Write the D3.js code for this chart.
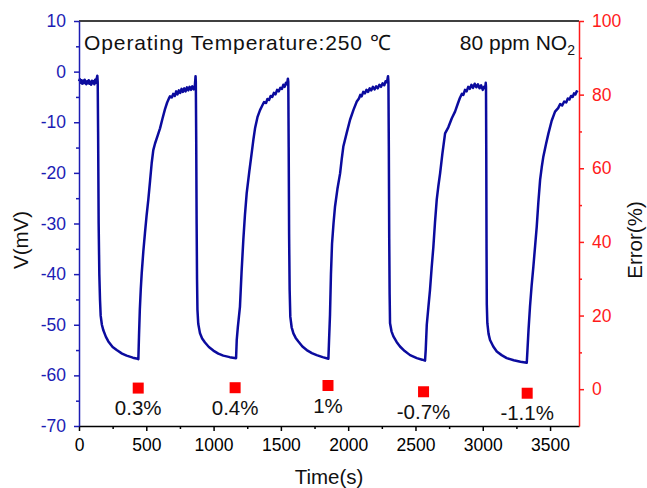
<!DOCTYPE html>
<html>
<head>
<meta charset="utf-8">
<script src="https://cdn.jsdelivr.net/npm/d3@7"></script>
<style>
  body { margin: 0; background: #fff; }
  text { font-family: "Liberation Sans", Arial, sans-serif; }
</style>
</head>
<body>
<div id="chart"></div>
<script>
// Basic dimensions
const width = 647;
const height = 488;
const margin = { left: 79, right: 68, top: 21, bottom: 62 };

// Sensor response (time in s, voltage in mV)
const responseTime = [
  0, 6, 12, 18, 24, 30, 36, 42, 48, 54, 60, 66, 72, 78, 84, 90, 96, 102, 108, 114, 120, 126, 132, 136, 139,
  142, 146, 151, 156, 161, 170, 181, 200, 218, 250, 280, 320, 354, 400, 435, 441,
  446, 452, 459, 466, 478, 490, 502, 515, 528, 540, 552, 565, 585, 602, 620, 639, 655, 668, 676, 690, 700, 712, 722, 732, 742, 752, 762, 772, 782, 792, 802, 812, 822, 832, 842, 852, 860, 866,
  868, 871, 874, 877, 880, 886, 899, 915, 936, 965, 998, 1035, 1072, 1120, 1167,
  1172, 1180, 1196, 1208, 1221, 1233, 1246, 1265, 1283, 1296, 1308, 1326, 1345, 1360, 1375, 1390, 1400, 1412, 1424, 1436, 1448, 1460, 1472, 1484, 1496, 1508, 1518, 1528, 1538, 1546, 1552,
  1555, 1558, 1561, 1565, 1570, 1580, 1593, 1610, 1630, 1660, 1692, 1730, 1766, 1810, 1853,
  1858, 1865, 1872, 1880, 1891, 1902, 1920, 1940, 1952, 1964, 1990, 2014, 2040, 2064, 2080, 2090, 2100, 2112, 2124, 2136, 2148, 2160, 2172, 2184, 2196, 2208, 2220, 2232, 2244, 2256, 2268, 2278, 2288, 2296,
  2299, 2302, 2305, 2308, 2311, 2322, 2336, 2360, 2385, 2420, 2460, 2510, 2550, 2571,
  2576, 2584, 2596, 2608, 2620, 2633, 2645, 2658, 2670, 2683, 2700, 2720, 2744, 2770, 2794, 2815, 2830, 2845, 2856, 2868, 2880, 2892, 2904, 2916, 2928, 2940, 2952, 2964, 2976, 2988, 3000, 3010, 3018, 3022,
  3024, 3026, 3028, 3030, 3034, 3043, 3054, 3078, 3104, 3140, 3178, 3230, 3280, 3327,
  3332, 3340, 3351, 3363, 3376, 3389, 3401, 3413, 3426, 3438, 3450, 3470, 3488, 3512, 3537, 3560, 3575, 3590, 3605, 3620, 3632, 3644, 3656, 3668, 3678, 3688, 3698, 3705
];
const responseV = [
  -1.9, -1.5, -2.2, -1.7, -2.4, -1.8, -2.3, -1.6, -2.1, -2.5, -1.9, -2.3, -1.7, -2.4, -2.0, -2.6, -1.8, -2.3, -1.9, -2.5, -1.6, -2.2, -1.3, -0.8, -2.0,
  -12, -30, -40, -45, -48.2, -50, -51.1, -52.4, -53.3, -54.4, -55.0, -55.7, -56.1, -56.5, -56.7, -56.8,
  -52, -47, -43, -39.8, -35.5, -31.9, -28.5, -25.3, -21.6, -18.1, -15.5, -14.2, -12.6, -11.2, -9.3, -7.4, -6.1, -5.3, -4.9, -5.1, -4.4, -4.8, -3.9, -4.5, -3.7, -4.2, -3.4, -4.0, -3.3, -3.9, -3.1, -3.7, -3.0, -3.6, -2.9, -3.5, -3.1, -0.9,
  -2, -14, -30, -41, -47, -49.8, -51.7, -52.7, -53.5, -54.4, -55.1, -55.7, -56.1, -56.4, -56.6,
  -53, -50.5, -46.4, -39.5, -33.2, -28.3, -24.0, -19.8, -16.1, -13.4, -11.2, -9.0, -7.6, -6.8, -6.0, -6.2, -5.4, -5.6, -4.8, -5.0, -4.2, -4.5, -3.6, -3.9, -3.2, -3.4, -2.6, -3.0, -2.2, -2.5, -1.4,
  -2, -15, -32, -43, -48.4, -50.5, -51.7, -52.6, -53.3, -54.3, -55.0, -55.6, -56.0, -56.4, -56.7,
  -53, -48, -40, -34, -30, -26.7, -23.2, -20.1, -17.3, -14.8, -12.0, -9.5, -7.5, -5.9, -5.3, -4.6, -4.9, -4.0, -4.3, -3.6, -4.0, -3.3, -3.7, -3.0, -3.5, -2.9, -3.3, -2.6, -3.0, -2.3, -2.7, -1.9, -2.1, -0.9,
  -2, -15, -33, -44, -49.7, -51.3, -52.3, -53.4, -54.3, -55.2, -56.0, -56.6, -56.9, -57.1,
  -55, -50, -46.5, -43.1, -38.8, -34.6, -29.8, -25.3, -22.6, -20.1, -16.2, -12.2, -11.0, -9.2, -7.9, -6.3, -5.2, -4.4, -4.6, -3.6, -3.9, -3.0, -3.4, -2.6, -3.2, -2.4, -3.1, -2.5, -3.3, -2.7, -3.6, -3.0, -3.3, -2.2,
  -3, -16, -35, -46, -49.7, -51.8, -53.0, -54.3, -55.3, -56.0, -56.6, -57.0, -57.3, -57.5,
  -55, -51, -46.4, -42.3, -38.5, -34.4, -30.6, -25.8, -21.4, -18.9, -16.8, -14.3, -12.2, -9.7, -7.9, -7.2, -6.4, -6.7, -5.9, -6.1, -5.3, -5.5, -4.8, -5.0, -4.3, -4.5, -3.9, -4.1
];

// Error points (right axis)
const errorTime = [440, 1160, 1850, 2560, 3330];
const errorValue = [0.3, 0.4, 1, -0.7, -1.1];
const errorLabels = ["0.3%", "0.4%", "1%", "-0.7%", "-1.1%"];

// Tick values
const xTicks = [0, 500, 1000, 1500, 2000, 2500, 3000, 3500];
const xMinor = [250, 750, 1250, 1750, 2250, 2750, 3250];
const yTicks = [10, 0, -10, -20, -30, -40, -50, -60, -70];
const yMinor = [5, -5, -15, -25, -35, -45, -55, -65];
const errTicks = [0, 20, 40, 60, 80, 100];
const errMinor = [10, 30, 50, 70, 90];

const lineColor = "#0b0b9e";
const leftColor = "#1c1cb4";
const rightColor = "#ff1a1a";
const plain = d => String(d); // keep hyphen minus like the original

const svg = d3.select("#chart")
  .append("svg")
  .attr("width", width)
  .attr("height", height);

const x = d3.scaleLinear().domain([0, 3715]).range([margin.left, width - margin.right]);
const y = d3.scaleLinear().domain([-70, 10]).range([height - margin.bottom, margin.top]);
const yErr = d3.scaleLinear().domain([-10, 100]).range([height - margin.bottom, margin.top]);

const data = responseTime.map((t, i) => ({ t: t, v: responseV[i] }));

// Response line
const line = d3.line()
  .x(d => x(d.t))
  .y(d => y(d.v));

svg.append("path")
  .datum(data)
  .attr("fill", "none")
  .attr("stroke", lineColor)
  .attr("stroke-width", 2.5)
  .attr("stroke-linejoin", "round")
  .attr("d", line);

// Top frame line
svg.append("line")
  .attr("x1", margin.left).attr("x2", width - margin.right)
  .attr("y1", margin.top).attr("y2", margin.top)
  .attr("stroke", "#000")
  .attr("stroke-width", 1.5);

// Bottom axis
const xAxis = svg.append("g")
  .attr("transform", `translate(0,${height - margin.bottom})`)
  .call(d3.axisBottom(x).tickValues(xTicks).tickFormat(plain).tickSize(5).tickPadding(8).tickSizeOuter(0));
svg.append("g")
  .attr("transform", `translate(0,${height - margin.bottom})`)
  .call(d3.axisBottom(x).tickValues(xMinor).tickSize(3).tickFormat("").tickSizeOuter(0))
  .call(g => g.select(".domain").remove())
  .selectAll("line").attr("stroke-width", 1.5);
xAxis.selectAll("text").attr("fill", "#000").attr("font-size", "17.5px");
xAxis.selectAll("line").attr("stroke-width", 1.5);
xAxis.select(".domain").attr("stroke-width", 1.5);

// Left axis
const yAxis = svg.append("g")
  .attr("transform", `translate(${margin.left},0)`)
  .call(d3.axisLeft(y).tickValues(yTicks).tickFormat(plain).tickSize(5).tickPadding(8).tickSizeOuter(0));
const yMinorG = svg.append("g")
  .attr("transform", `translate(${margin.left},0)`)
  .call(d3.axisLeft(y).tickValues(yMinor).tickSize(3).tickFormat("").tickSizeOuter(0));
yMinorG.select(".domain").remove();
yMinorG.selectAll("line").attr("stroke", leftColor).attr("stroke-width", 1.5);
yAxis.selectAll("line").attr("stroke", leftColor).attr("stroke-width", 1.5);
yAxis.select(".domain").attr("stroke", leftColor).attr("stroke-width", 1.5);
yAxis.selectAll("text").attr("fill", leftColor).attr("font-size", "17.5px");

// Right axis
const rAxis = svg.append("g")
  .attr("transform", `translate(${width - margin.right},0)`)
  .call(d3.axisRight(yErr).tickValues(errTicks).tickFormat(plain).tickSize(5).tickPadding(8).tickSizeOuter(0));
const rMinorG = svg.append("g")
  .attr("transform", `translate(${width - margin.right},0)`)
  .call(d3.axisRight(yErr).tickValues(errMinor).tickSize(3).tickFormat("").tickSizeOuter(0));
rMinorG.select(".domain").remove();
rMinorG.selectAll("line").attr("stroke", rightColor).attr("stroke-width", 1.5);
rAxis.selectAll("line").attr("stroke", rightColor).attr("stroke-width", 1.5);
rAxis.select(".domain").attr("stroke", rightColor).attr("stroke-width", 1.5);
rAxis.selectAll("text").attr("fill", rightColor).attr("font-size", "17.5px");

// Error squares and labels
const sq = 11;
svg.selectAll(".err")
  .data(errorTime)
  .enter()
  .append("rect")
  .attr("class", "err")
  .attr("x", d => x(d) - sq / 2)
  .attr("y", (d, i) => yErr(errorValue[i]) - sq / 2)
  .attr("width", sq)
  .attr("height", sq)
  .attr("fill", "#ff0000");

svg.selectAll(".errlabel")
  .data(errorTime)
  .enter()
  .append("text")
  .attr("class", "errlabel")
  .attr("x", d => x(d))
  .attr("y", (d, i) => yErr(errorValue[i]) + 27)
  .attr("text-anchor", "middle")
  .attr("font-size", "20.5px")
  .attr("fill", "#111")
  .text((d, i) => errorLabels[i]);

// Annotations
svg.append("text")
  .attr("x", 84)
  .attr("y", 50)
  .attr("font-size", "21px")
  .attr("letter-spacing", "0.9px")
  .attr("fill", "#111")
  .text("Operating Temperature:250 \u2103");

const gasLabel = svg.append("text")
  .attr("x", 575)
  .attr("y", 50)
  .attr("text-anchor", "end")
  .attr("font-size", "21px")
  .attr("fill", "#111");
gasLabel.append("tspan").text("80 ppm NO");
gasLabel.append("tspan").attr("font-size", "14px").attr("dy", 5).text("2");

// Axis titles
svg.append("text")
  .attr("text-anchor", "middle")
  .attr("x", (margin.left + width - margin.right) / 2)
  .attr("y", 484)
  .attr("font-size", "20.5px")
  .attr("fill", "#111")
  .text("Time(s)");

svg.append("text")
  .attr("text-anchor", "middle")
  .attr("transform", "rotate(-90)")
  .attr("x", -240)
  .attr("y", 28)
  .attr("font-size", "20.5px")
  .attr("fill", "#111")
  .text("V(mV)");

svg.append("text")
  .attr("text-anchor", "middle")
  .attr("transform", "rotate(-90)")
  .attr("x", -240)
  .attr("y", 642)
  .attr("font-size", "20.5px")
  .attr("fill", "#111")
  .text("Error(%)");
</script>
</body>
</html>
